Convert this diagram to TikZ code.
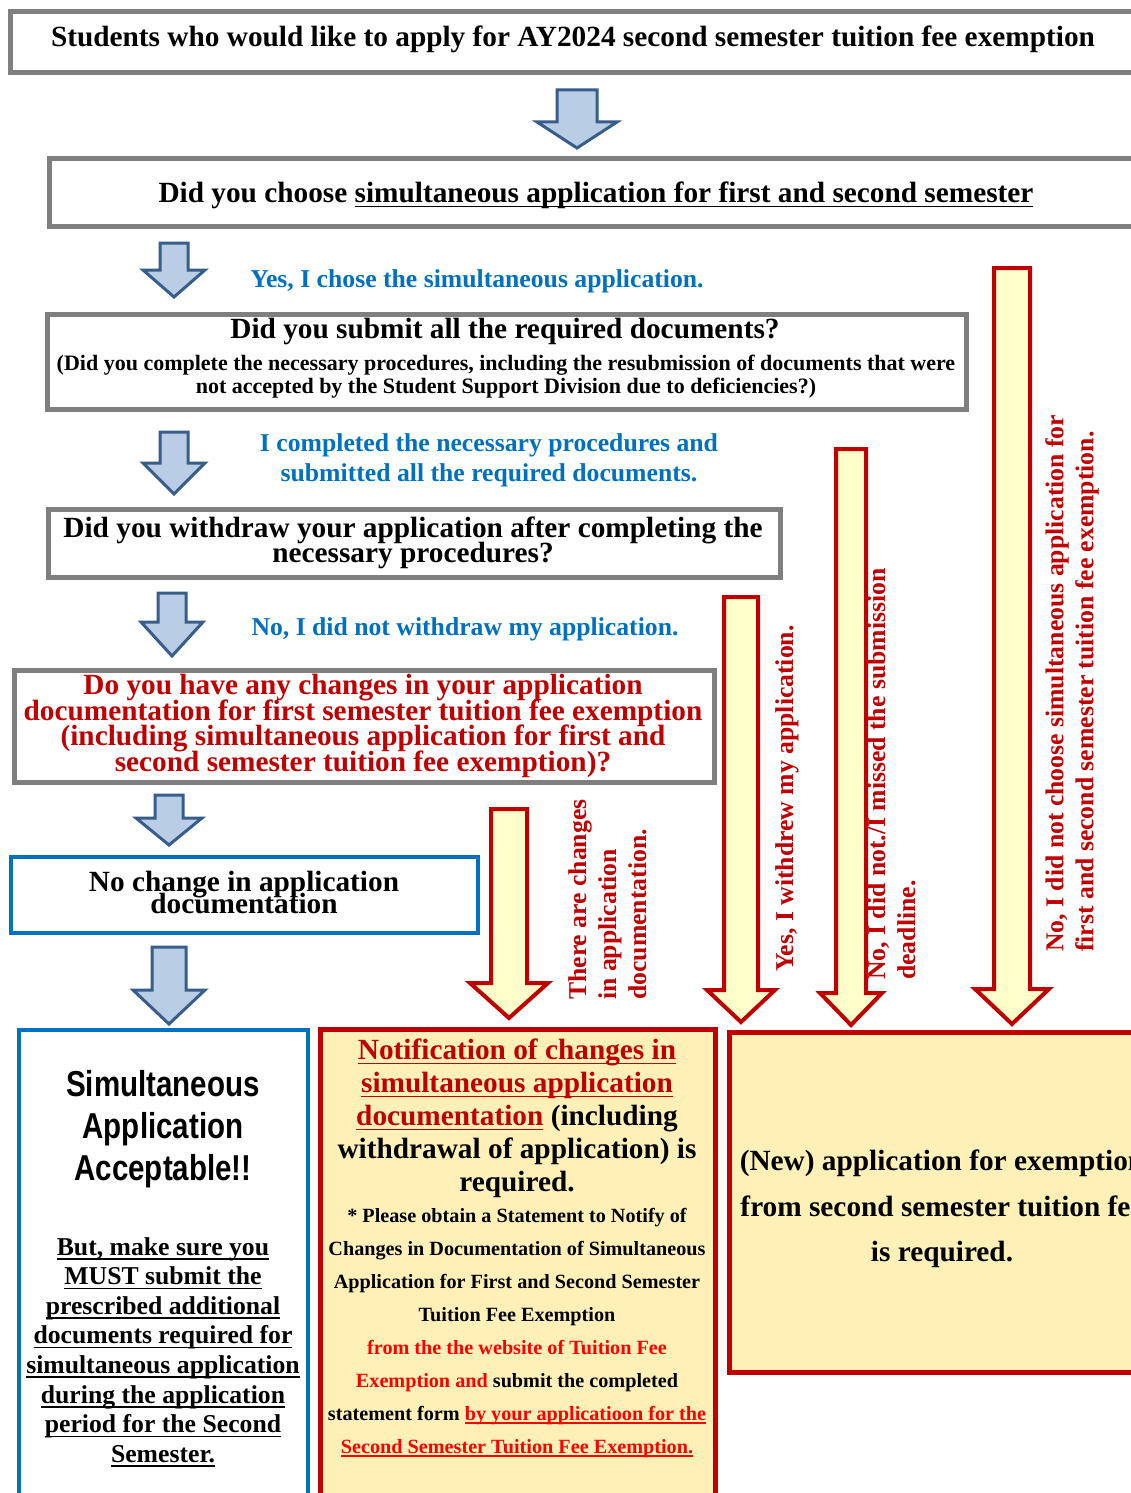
\documentclass[tikz,border=0pt]{standalone}
\usepackage{fontspec}
\setmainfont{Liberation Serif}
\newfontfamily\narrowsans{Liberation Sans}[FakeStretch=0.82]
\definecolor{boxgray}{HTML}{7F7F7F}
\definecolor{arrowblue}{HTML}{B9CDE5}
\definecolor{arrowblueline}{HTML}{385D8A}
\definecolor{textblue}{HTML}{0070C0}
\definecolor{darkred}{HTML}{C00000}
\definecolor{brightred}{HTML}{FF0000}
\definecolor{yellowfill}{HTML}{FFFFCC}
\definecolor{creamfill}{HTML}{FFF0B8}
\newcommand\setfs[2]{\fontsize{#1}{#2}\selectfont\lineskiplimit=-100pt\lineskip=0pt}
\newsavebox\ulbox
\newcommand\myul[1]{\sbox\ulbox{#1}\leavevmode\rlap{\rule[-0.17em]{\wd\ulbox}{1.5pt}}\usebox\ulbox}
% block arrow: style, cx, top, headtop, tip, half shaft, half head
\newcommand\blockarrow[7]{%
  \draw[#1] (#2-#6,#3) -- (#2+#6,#3) -- (#2+#6,#4) -- (#2+#7,#4) -- (#2,#5)
    -- (#2-#7,#4) -- (#2-#6,#4) -- cycle;}
\begin{document}
\begin{tikzpicture}[x=1pt,y=-1pt,
  graybox/.style={draw=boxgray,line width=5pt,fill=white},
  bluebox/.style={draw=textblue,line width=4.5pt,fill=white},
  redbox/.style={draw=darkred,line width=5pt,fill=creamfill},
  bluearrow/.style={draw=arrowblueline,line width=3pt,fill=arrowblue,line join=miter},
  yelarrow/.style={draw=darkred,line width=4pt,fill=yellowfill,line join=miter},
  txt/.style={inner sep=0pt,align=center},
  big/.style={font=\bfseries\setfs{29.3}{26}},
  lbl/.style={font=\bfseries\setfs{25.7}{30},text=textblue},
  vlbl/.style={inner sep=0pt,align=left,rotate=90,anchor=north west,
     font=\bfseries\setfs{25.7}{30},text=darkred}]
\useasboundingbox (0,0) rectangle (1131,1493);
\clip (0,0) rectangle (1131,1493);
\fill[white] (0,0) rectangle (1131,1493);

% ---- boxes
\draw[graybox] (10,12) rectangle (1150,73);
\draw[graybox] (49,158) rectangle (1150,226);
\draw[graybox] (47,314) rectangle (966,409);
\draw[graybox] (48,509) rectangle (780,577);
\draw[graybox] (14,670) rectangle (714,782);
\draw[bluebox] (11,857) rectangle (478,933);
\draw[bluebox] (19,1030) rectangle (308,1510);
\draw[redbox] (320,1029) rectangle (715,1510);
\draw[redbox] (729,1032) rectangle (1160,1372);

% ---- blue arrows
\blockarrow{bluearrow}{577}{90}{122}{148}{20}{40}
\blockarrow{bluearrow}{174}{243}{270}{297}{14}{31}
\blockarrow{bluearrow}{174}{432}{463}{494}{14}{31}
\blockarrow{bluearrow}{172}{593}{622}{656}{14}{31}
\blockarrow{bluearrow}{169}{795}{818}{845}{14}{33}
\blockarrow{bluearrow}{169}{947}{990}{1024}{17}{36}

% ---- yellow arrows
\blockarrow{yelarrow}{1012}{268}{989}{1024}{18}{37}
\blockarrow{yelarrow}{851}{449}{993}{1025}{15}{31}
\blockarrow{yelarrow}{741}{597}{990}{1022}{17}{34}
\blockarrow{yelarrow}{509}{809}{983}{1018}{18}{39}

% ---- texts
\node[txt,big] (t1) at (573,39) {Students who would like to apply for AY2024 second semester tuition fee exemption};
\node[txt,big] (t2) at (596,195) {Did you choose \myul{simultaneous application for first and second semester}};
\node[txt,lbl] (l1) at (477,281) {Yes, I chose the simultaneous application.};
\node[txt,big] (t3) at (505,331) {Did you submit all the required documents?};
\node[txt,font=\bfseries\setfs{22}{23}] (t3b) at (506,377) {(Did you complete the necessary procedures, including the resubmission of documents that were\\not accepted by the Student Support Division due to deficiencies?)};
\node[txt,lbl] (l2) at (489,460) {I completed the necessary procedures and\\submitted all the required documents.};
\node[txt,font=\bfseries\setfs{29.3}{25}] (t4) at (413,543) {Did you withdraw your application after completing the\\necessary procedures?};
\node[txt,lbl] (l3) at (465,629) {No, I did not withdraw my application.};
\node[txt,font=\bfseries\setfs{29.3}{25.7},text=darkred] (t5) at (363,726) {Do you have any changes in your application\\documentation for first semester tuition fee exemption\\(including simultaneous application for first and\\second semester tuition fee exemption)?};
\node[txt,font=\bfseries\setfs{29.3}{22}] (t6) at (244,893) {No change in application\\documentation};

\node[txt,font=\narrowsans\bfseries\setfs{36}{42}] (t7) at (163,1129) {Simultaneous\\Application\\Acceptable!!};
\node[txt,font=\bfseries\setfs{25.7}{29.6}] (t7b) at (163,1352) {\myul{But, make sure you}\\\myul{MUST submit the}\\\myul{prescribed additional}\\\myul{documents required for}\\\myul{simultaneous application}\\\myul{during the application}\\\myul{period for the Second}\\\myul{Semester.}};

\node[txt,font=\bfseries\setfs{29.3}{33}] (t8) at (517,1118) {\textcolor{darkred}{\myul{Notification of changes in}}\\\textcolor{darkred}{\myul{simultaneous application}}\\\textcolor{darkred}{\myul{documentation}} (including\\withdrawal of application) is\\required.};
\node[txt,font=\bfseries\setfs{20.2}{33}] (t8b) at (517,1333) {* Please obtain a Statement to Notify of\\Changes in Documentation of Simultaneous\\Application for First and Second Semester\\Tuition Fee Exemption\\\textcolor{brightred}{from the the website of Tuition Fee}\\\textcolor{brightred}{Exemption and} submit the completed\\statement form \textcolor{brightred}{\myul{by your applicatioon for the}}\\\textcolor{brightred}{\myul{Second Semester Tuition Fee Exemption.}}};

\node[txt,font=\bfseries\setfs{29.3}{45.5}] (t9) at (942,1209) {(New) application for exemption\\from second semester tuition fee\\is required.};

% ---- vertical labels
\node[vlbl] (v1) at (1045,952) {No, I did not choose simultaneous application for\\first and second semester tuition fee exemption.};
\node[vlbl] (v2) at (867,980) {No, I did not./I missed the submission\\deadline.};
\node[vlbl] (v3) at (775,972) {Yes, I withdrew my application.};
\node[vlbl] (v4) at (568,1000) {There are changes\\in application\\documentation.};
\end{tikzpicture}
\end{document}
